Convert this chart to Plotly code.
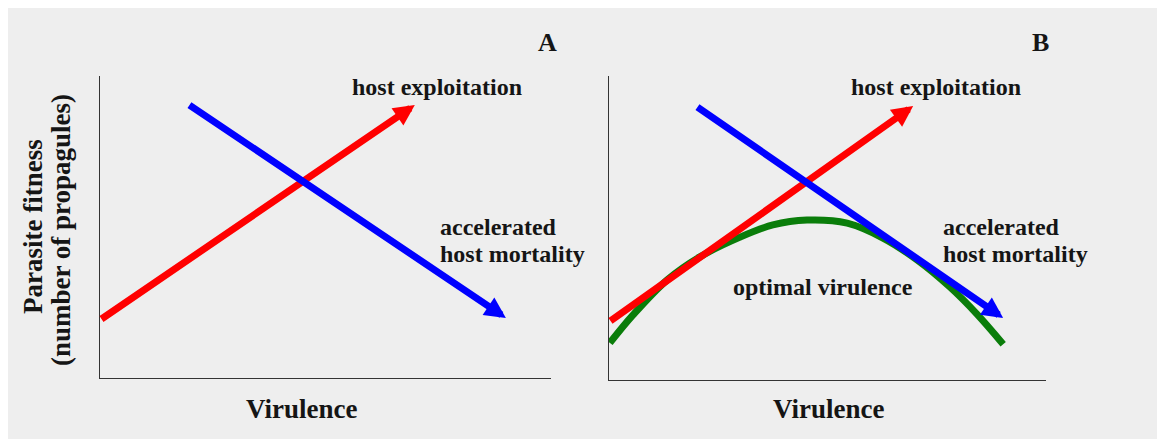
import plotly.graph_objects as go

# panel A: straight trade-off arrows (start -> tip), axis units 0..10
red_a_x = [0.0, 6.98]
red_a_y = [1.92, 9.04]
blue_a_x = [1.95, 9.0]
blue_a_y = [9.07, 1.99]

# panel B: same arrows plus the fitness curve
red_b_x = [0.0, 6.96]
red_b_y = [1.91, 9.01]
blue_b_x = [1.99, 9.02]
blue_b_y = [9.01, 2.04]
green_x = [0.02, 0.55, 1.33, 2.08, 3.00, 3.75, 4.53, 5.45, 6.27, 7.05, 7.80, 8.42, 9.02]
green_y = [1.22, 2.14, 3.29, 4.05, 4.70, 5.10, 5.26, 5.16, 4.67, 3.95, 3.06, 2.17, 1.18]

# the page body adds an 8px offset, so the figure is drawn 8px smaller
OFF = 8
W, H = 1165 - OFF, 439 - OFF
FONT = "Liberation Serif"
INK = "#151515"
RED = "#ff0000"
BLUE = "#0000ff"
GREEN = "#0a7d0a"


def px(x):
    return (x - OFF) / W


def py(y):
    return 1 - (y - OFF) / H


def arrow(xs, ys, color, xref, yref):
    return dict(
        x=xs[1], y=ys[1], ax=xs[0], ay=ys[0],
        xref=xref, yref=yref, axref=xref, ayref=yref,
        text="", showarrow=True, arrowhead=2, arrowsize=0.6,
        arrowwidth=7, arrowcolor=color, standoff=0,
    )


def label(text, x, y, size=23, xanchor="center", angle=0):
    return dict(
        text=f"<b>{text}</b>", x=px(x), y=py(y), xref="paper", yref="paper",
        showarrow=False, xanchor=xanchor, yanchor="middle", textangle=angle,
        font=dict(family=FONT, size=size, color=INK),
    )


fig = go.Figure()

fig.add_trace(
    go.Scatter(
        x=green_x, y=green_y, mode="lines", xaxis="x2", yaxis="y2",
        line=dict(color=GREEN, width=7, shape="spline", smoothing=1.0),
        hoverinfo="skip",
    )
)

axis_style = dict(
    range=[0, 10], showline=True, linecolor="#333333", linewidth=1,
    showgrid=False, zeroline=False, showticklabels=False, ticks="",
    fixedrange=True,
)

fig.update_layout(
    width=W,
    height=H,
    margin=dict(l=0, r=0, t=0, b=0),
    paper_bgcolor="white",
    plot_bgcolor="rgba(0,0,0,0)",
    showlegend=False,
    xaxis=dict(axis_style, domain=[px(100), px(551)], anchor="y"),
    yaxis=dict(axis_style, domain=[py(378), py(76)], anchor="x"),
    xaxis2=dict(axis_style, domain=[px(609), px(1046)], anchor="y2"),
    yaxis2=dict(axis_style, domain=[py(380), py(76)], anchor="x2"),
    shapes=[
        dict(
            type="rect", xref="paper", yref="paper", layer="below",
            x0=0, x1=px(1160), y0=0, y1=py(6),
            fillcolor="#eeeeee", line=dict(width=0),
        )
    ],
)

annotations = [
    arrow(red_a_x, red_a_y, RED, "x", "y"),
    arrow(blue_a_x, blue_a_y, BLUE, "x", "y"),
    arrow(red_b_x, red_b_y, RED, "x2", "y2"),
    arrow(blue_b_x, blue_b_y, BLUE, "x2", "y2"),
    label("A", 547, 43, size=26),
    label("B", 1040, 43, size=26),
    label("host exploitation", 437, 87, size=24),
    label("host exploitation", 936, 87, size=24),
    label("accelerated", 438, 227, xanchor="left", size=24),
    label("host mortality", 438, 254, xanchor="left", size=24),
    label("accelerated", 941, 227, xanchor="left", size=24),
    label("host mortality", 941, 254, xanchor="left", size=24),
    label("optimal virulence", 823, 287, size=24),
    label("Virulence", 301, 409, size=27),
    label("Virulence", 828, 409, size=27),
    label("Parasite fitness", 33, 227, size=27, angle=-90),
    label("(number of propagules)", 61, 230, size=27, angle=-90),
]
fig.update_layout(annotations=annotations)

fig.write_html("out.html")
